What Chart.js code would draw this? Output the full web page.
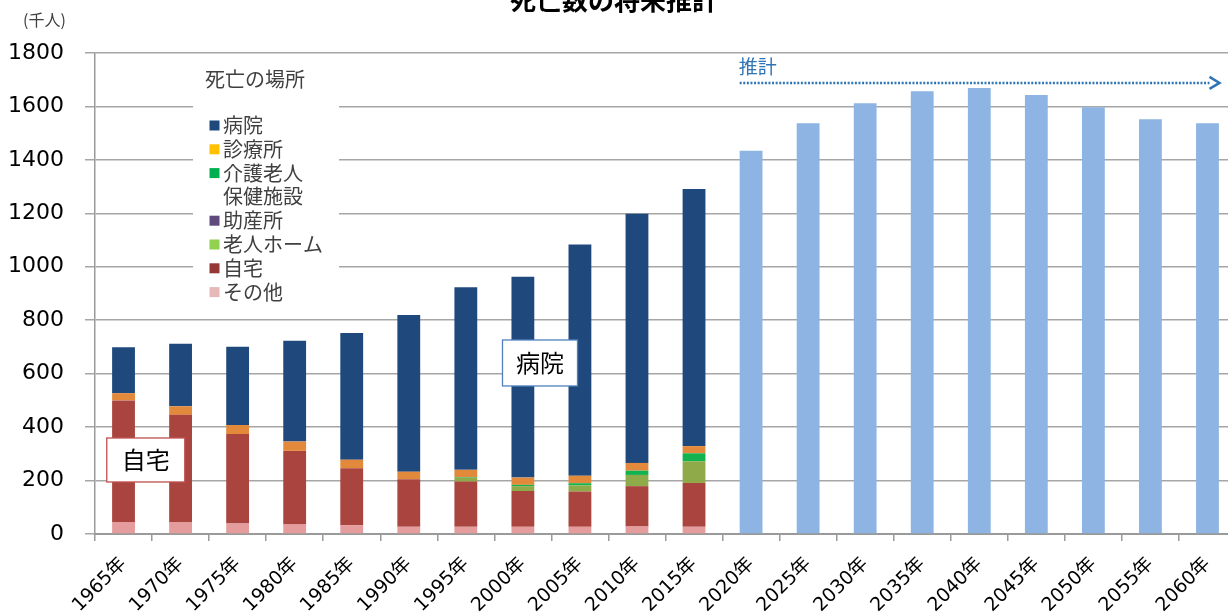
<!DOCTYPE html>
<html><head><meta charset="utf-8">
<script src="https://cdn.jsdelivr.net/npm/chart.js@4/dist/chart.umd.min.js"></script>
<style>
html,body{margin:0;padding:0;background:#fff;overflow:hidden;width:1228px;height:612px;}
#wrap{position:relative;width:1240px;height:612px;}
canvas{display:block;}
</style></head><body>
<div id="wrap"><canvas id="c" width="1240" height="612"></canvas></div>
<script>
// ---- data (千人) ----
const categories = ['1965年','1970年','1975年','1980年','1985年','1990年','1995年','2000年','2005年','2010年','2015年',
                    '2020年','2025年','2030年','2035年','2040年','2045年','2050年','2055年','2060年'];
const hospital   = [172,234,293,377,474,587,683,752,865,932,962];   // 病院
const clinic     = [27,32,34,35,32,28,28,27,28,29,27];              // 診療所
const rouken     = [0,0,0,0,0,0,2,5,8,16,30];                       // 介護老人保健施設
const josanjo    = [0,0,0,0,0,0,0,0,0,0,0];                         // 助産所
const roujinHome = [0,0,0,0,0,0,14,18,23,42,81];                    // 老人ホーム
const home       = [455,403,335,275,213,178,169,134,132,151,164];   // 自宅
const other      = [45,43,39,36,33,27,27,27,27,28,27];              // その他
const projection = [null,null,null,null,null,null,null,null,null,null,null,
                    1434,1537,1612,1657,1669,1643,1597,1552,1537];  // 推計
const yTicks = [0,200,400,600,800,1000,1200,1400,1600,1800];

const CJK = "'Noto Sans CJK JP'";
const NUM = "'DejaVu Sans','Noto Sans CJK JP'";

const legendItems = [
  {label:['病院'], color:'#1f497d'},
  {label:['診療所'], color:'#ffc000'},
  {label:['介護老人','保健施設'], color:'#00b050'},
  {label:['助産所'], color:'#604a7b'},
  {label:['老人ホーム'], color:'#92d050'},
  {label:['自宅'], color:'#953735'},
  {label:['その他'], color:'#e6b9b8'}
];

const annot = {
  id:'annot',
  beforeDatasetsDraw(chart){
    const {ctx, chartArea:ca} = chart;
    const L = ca.left;
    ctx.save();
    ctx.fillStyle = '#ffffff';
    ctx.fillRect(L + 98, ca.top + 5, 146, 250);
    ctx.fillStyle = '#404040';
    ctx.textBaseline = 'middle';
    ctx.textAlign = 'left';
    ctx.font = "20px " + CJK;
    ctx.fillText('死亡の場所', L + 110, 79);
    let yy = 125.5;
    const step = 23.8;
    legendItems.forEach(it => {
      ctx.fillStyle = it.color;
      ctx.fillRect(L + 114.5, yy - 5, 10, 10);
      ctx.fillStyle = '#404040';
      it.label.forEach(t => {
        ctx.fillText(t, L + 128, yy);
        yy += step;
      });
    });
    ctx.restore();
  },
  afterDatasetsDraw(chart){
    const {ctx, scales:{x, y}} = chart;
    const cw = x.getPixelForValue(1) - x.getPixelForValue(0);
    ctx.save();
    function callout(text, idx, val, w, h, border){
      const cx = x.getPixelForValue(0) + idx * cw;
      const cy = y.getPixelForValue(val);
      ctx.fillStyle = '#ffffff';
      ctx.fillRect(cx - w/2, cy - h/2, w, h);
      ctx.strokeStyle = border;
      ctx.lineWidth = 1.3;
      ctx.strokeRect(cx - w/2, cy - h/2, w, h);
      ctx.fillStyle = '#000000';
      ctx.font = "24px " + CJK;
      ctx.textAlign = 'center';
      ctx.textBaseline = 'middle';
      ctx.fillText(text, cx, cy);
    }
    callout('自宅', 0.39, 277, 78, 44, '#c0504d');
    callout('病院', 7.3, 640, 75, 46, '#4f81bd');

    // 推計 arrow
    const x0 = x.getPixelForValue(11) - cw * 0.2;
    const x1 = x.getPixelForValue(19) + 2;
    const ay = y.getPixelForValue(1688);
    ctx.strokeStyle = '#2f75b5';
    ctx.lineWidth = 2.5;
    ctx.setLineDash([2, 1.6]);
    ctx.beginPath();
    ctx.moveTo(x0, ay);
    ctx.lineTo(x1, ay);
    ctx.stroke();
    ctx.setLineDash([]);
    ctx.beginPath();
    ctx.moveTo(x1, ay - 6);
    ctx.lineTo(x1 + 10, ay);
    ctx.lineTo(x1, ay + 6);
    ctx.stroke();
    ctx.fillStyle = '#2f75b5';
    ctx.font = "19px " + CJK;
    ctx.textAlign = 'left';
    ctx.textBaseline = 'middle';
    ctx.fillText('推計', x0 - 1, y.getPixelForValue(1750));

    // title (top cut off as in original)
    ctx.fillStyle = '#000000';
    ctx.font = "bold 26px " + CJK;
    ctx.textAlign = 'center';
    ctx.textBaseline = 'alphabetic';
    ctx.fillText('死亡数の将来推計', 614, 10);

    // unit
    ctx.fillStyle = '#404040';
    ctx.font = "16px " + CJK;
    ctx.textAlign = 'left';
    ctx.textBaseline = 'middle';
    ctx.fillText('(千人)', 23, 20);
    ctx.restore();
  }
};

new Chart(document.getElementById('c'), {
  type:'bar',
  data:{
    labels: categories,
    datasets:[
      {label:'その他', data: other, backgroundColor:'#e59c9c'},
      {label:'自宅', data: home, backgroundColor:'#a9443f'},
      {label:'老人ホーム', data: roujinHome, backgroundColor:'#8faa48'},
      {label:'助産所', data: josanjo, backgroundColor:'#604a7b'},
      {label:'介護老人保健施設', data: rouken, backgroundColor:'#12b24e'},
      {label:'診療所', data: clinic, backgroundColor:'#e3893b'},
      {label:'病院', data: hospital, backgroundColor:'#1f497d'},
      {label:'推計', data: projection, backgroundColor:'#8db4e2'}
    ]
  },
  options:{
    responsive:false,
    animation:false,
    devicePixelRatio:1,
    layout:{padding:{top:53, right:4, left:0, bottom:0}},
    datasets:{bar:{categoryPercentage:1, barPercentage:0.4, borderWidth:0}},
    plugins:{legend:{display:false}, tooltip:{enabled:false}, title:{display:false}},
    scales:{
      x:{
        stacked:true,
        grid:{display:true, drawOnChartArea:false, drawTicks:true, tickLength:7, color:'#9a9a9a', lineWidth:1.5, offset:true},
        border:{display:true, color:'#9a9a9a', width:2},
        ticks:{maxRotation:45, minRotation:45, autoSkip:false, padding:12, color:'#000', font:{family:NUM, size:19}},
        afterFit(s){ s.height = 78; }
      },
      y:{
        stacked:true,
        min:0, max:1800,
        afterBuildTicks(s){ s.ticks = yTicks.map(v => ({value:v})); },
        grid:{color:'#a6a6a6', lineWidth:1.5, tickLength:10, drawTicks:true},
        border:{display:true, color:'#9a9a9a', width:1.5},
        ticks:{padding:21, color:'#000', font:{family:NUM, size:22}, callback:(v) => String(v)},
        afterFit(s){ s.width = 95; }
      }
    }
  },
  plugins:[annot]
});
</script>
</body></html>
